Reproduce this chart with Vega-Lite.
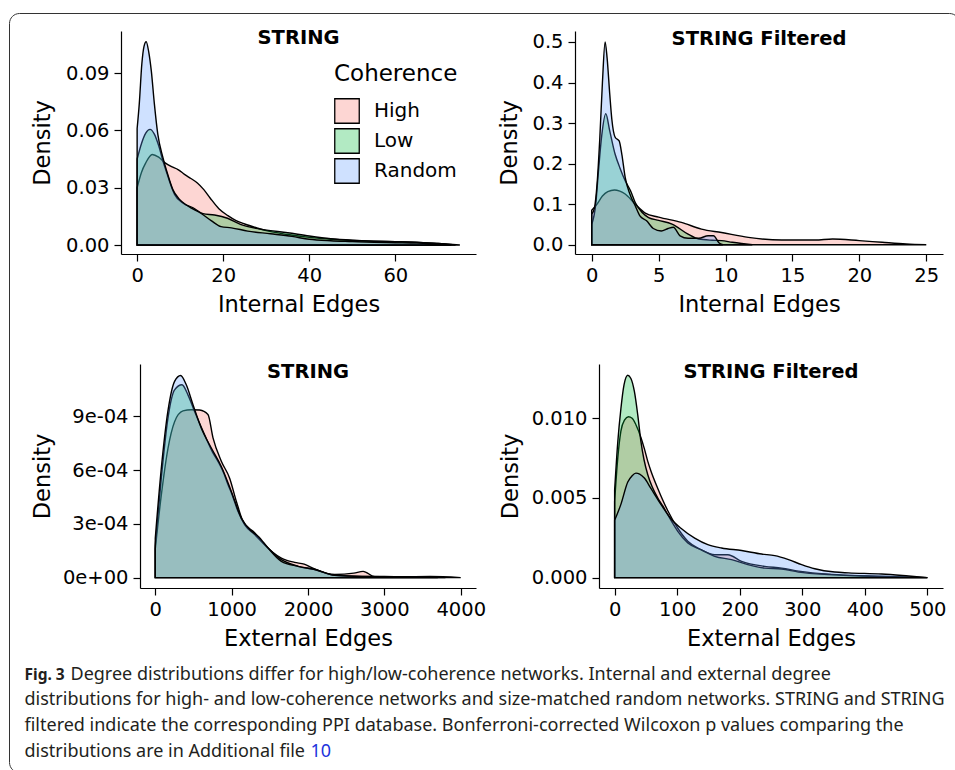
{
  "$schema": "https://vega.github.io/schema/vega-lite/v6.json",
  "background": "white",
  "padding": {"left": 8, "top": 12, "right": 0, "bottom": 0},
  "autosize": {"type": "pad"},
  "datasets": {
    "tl": [
      {"g":"High","v":0,"d":0.030},{"g":"High","v":1,"d":0.038},{"g":"High","v":2,"d":0.043},{"g":"High","v":3.5,"d":0.0474},{"g":"High","v":5,"d":0.046},{"g":"High","v":6.5,"d":0.043},{"g":"High","v":8,"d":0.041},{"g":"High","v":9.5,"d":0.0395},{"g":"High","v":11,"d":0.037},{"g":"High","v":12.5,"d":0.0348},{"g":"High","v":14,"d":0.0325},{"g":"High","v":15.5,"d":0.029},{"g":"High","v":17,"d":0.0245},{"g":"High","v":19,"d":0.019},{"g":"High","v":21,"d":0.0155},{"g":"High","v":23,"d":0.0128},{"g":"High","v":25,"d":0.011},{"g":"High","v":28,"d":0.0088},{"g":"High","v":30,"d":0.0075},{"g":"High","v":35,"d":0.0055},{"g":"High","v":40,"d":0.004},{"g":"High","v":45,"d":0.003},{"g":"High","v":50,"d":0.0024},{"g":"High","v":55,"d":0.002},{"g":"High","v":60,"d":0.0018},{"g":"High","v":65,"d":0.0015},{"g":"High","v":70,"d":0.0008},{"g":"High","v":75,"d":0},
      {"g":"Low","v":0,"d":0.045},{"g":"Low","v":1,"d":0.053},{"g":"Low","v":2,"d":0.0585},{"g":"Low","v":3,"d":0.0605},{"g":"Low","v":4,"d":0.058},{"g":"Low","v":5,"d":0.052},{"g":"Low","v":6,"d":0.044},{"g":"Low","v":7,"d":0.037},{"g":"Low","v":7.5,"d":0.0335},{"g":"Low","v":8.7,"d":0.0265},{"g":"Low","v":10.6,"d":0.022},{"g":"Low","v":13,"d":0.0195},{"g":"Low","v":15.3,"d":0.0164},{"g":"Low","v":18,"d":0.0157},{"g":"Low","v":21,"d":0.014},{"g":"Low","v":24,"d":0.0108},{"g":"Low","v":29,"d":0.0082},{"g":"Low","v":35,"d":0.0064},{"g":"Low","v":40,"d":0.0047},{"g":"Low","v":45,"d":0.0033},{"g":"Low","v":50,"d":0.0025},{"g":"Low","v":55,"d":0.002},{"g":"Low","v":60,"d":0.0017},{"g":"Low","v":65,"d":0.0014},{"g":"Low","v":70,"d":0.0008},{"g":"Low","v":74,"d":0},
      {"g":"Random","v":0,"d":0.061},{"g":"Random","v":0.5,"d":0.074},{"g":"Random","v":1.1,"d":0.095},{"g":"Random","v":1.6,"d":0.104},{"g":"Random","v":2.1,"d":0.1064},{"g":"Random","v":2.7,"d":0.101},{"g":"Random","v":3.3,"d":0.091},{"g":"Random","v":4,"d":0.074},{"g":"Random","v":4.8,"d":0.058},{"g":"Random","v":6,"d":0.0457},{"g":"Random","v":7.1,"d":0.037},{"g":"Random","v":8.3,"d":0.029},{"g":"Random","v":9.8,"d":0.024},{"g":"Random","v":11.8,"d":0.0204},{"g":"Random","v":14.9,"d":0.0165},{"g":"Random","v":17.2,"d":0.0128},{"g":"Random","v":19.5,"d":0.0096},{"g":"Random","v":21.9,"d":0.009},{"g":"Random","v":25.7,"d":0.0073},{"g":"Random","v":31,"d":0.0059},{"g":"Random","v":36,"d":0.0045},{"g":"Random","v":40,"d":0.003},{"g":"Random","v":45,"d":0.0022},{"g":"Random","v":50,"d":0.0018},{"g":"Random","v":55,"d":0.0014},{"g":"Random","v":60,"d":0.0012},{"g":"Random","v":65,"d":0.001},{"g":"Random","v":70,"d":0.0005},{"g":"Random","v":73,"d":0}
    ],
    "tr": [
      {"g":"High","v":0,"d":0.085},{"g":"High","v":0.4,"d":0.1},{"g":"High","v":0.8,"d":0.12},{"g":"High","v":1.2,"d":0.131},{"g":"High","v":1.7,"d":0.135},{"g":"High","v":2.1,"d":0.132},{"g":"High","v":2.5,"d":0.125},{"g":"High","v":3.25,"d":0.1},{"g":"High","v":4,"d":0.078},{"g":"High","v":5,"d":0.068},{"g":"High","v":6.7,"d":0.055},{"g":"High","v":8.2,"d":0.0385},{"g":"High","v":9.7,"d":0.03},{"g":"High","v":11.7,"d":0.018},{"g":"High","v":14.2,"d":0.0115},{"g":"High","v":16.7,"d":0.0115},{"g":"High","v":18,"d":0.014},{"g":"High","v":20,"d":0.01},{"g":"High","v":21.7,"d":0.006},{"g":"High","v":23.5,"d":0.002},{"g":"High","v":25,"d":0},
      {"g":"Low","v":0,"d":0.05},{"g":"Low","v":0.3,"d":0.1},{"g":"Low","v":0.5,"d":0.18},{"g":"Low","v":0.75,"d":0.27},{"g":"Low","v":1.05,"d":0.323},{"g":"Low","v":1.35,"d":0.28},{"g":"Low","v":1.75,"d":0.223},{"g":"Low","v":2.1,"d":0.19},{"g":"Low","v":2.5,"d":0.158},{"g":"Low","v":2.9,"d":0.133},{"g":"Low","v":3.25,"d":0.104},{"g":"Low","v":3.75,"d":0.08},{"g":"Low","v":4.25,"d":0.067},{"g":"Low","v":5,"d":0.06},{"g":"Low","v":6,"d":0.051},{"g":"Low","v":7.2,"d":0.026},{"g":"Low","v":8,"d":0.014},{"g":"Low","v":9,"d":0.011},{"g":"Low","v":9.7,"d":0.01},{"g":"Low","v":10.5,"d":0.006},{"g":"Low","v":11.2,"d":0.003},{"g":"Low","v":12,"d":0},
      {"g":"Random","v":0,"d":0.075},{"g":"Random","v":0.2,"d":0.09},{"g":"Random","v":0.4,"d":0.15},{"g":"Random","v":0.6,"d":0.26},{"g":"Random","v":0.8,"d":0.4},{"g":"Random","v":1,"d":0.5},{"g":"Random","v":1.15,"d":0.46},{"g":"Random","v":1.35,"d":0.37},{"g":"Random","v":1.5,"d":0.31},{"g":"Random","v":1.75,"d":0.265},{"g":"Random","v":2.05,"d":0.256},{"g":"Random","v":2.25,"d":0.223},{"g":"Random","v":2.5,"d":0.166},{"g":"Random","v":2.85,"d":0.125},{"g":"Random","v":3.25,"d":0.096},{"g":"Random","v":3.6,"d":0.071},{"g":"Random","v":4.1,"d":0.059},{"g":"Random","v":4.6,"d":0.04},{"g":"Random","v":5.2,"d":0.034},{"g":"Random","v":5.7,"d":0.04},{"g":"Random","v":6.1,"d":0.043},{"g":"Random","v":6.6,"d":0.022},{"g":"Random","v":7.2,"d":0.016},{"g":"Random","v":8,"d":0.016},{"g":"Random","v":8.7,"d":0.022},{"g":"Random","v":9.1,"d":0.022},{"g":"Random","v":9.5,"d":0.005},{"g":"Random","v":9.8,"d":0}
    ],
    "bl": [
      {"g":"High","v":0,"d":0.00016},{"g":"High","v":79,"d":0.00046},{"g":"High","v":166,"d":0.00072},{"g":"High","v":253,"d":0.00087},{"g":"High","v":363,"d":0.00093},{"g":"High","v":472,"d":0.000937},{"g":"High","v":581,"d":0.000935},{"g":"High","v":690,"d":0.00091},{"g":"High","v":756,"d":0.00078},{"g":"High","v":865,"d":0.000649},{"g":"High","v":974,"d":0.000555},{"g":"High","v":1062,"d":0.000425},{"g":"High","v":1149,"d":0.000314},{"g":"High","v":1301,"d":0.00025},{"g":"High","v":1432,"d":0.000184},{"g":"High","v":1651,"d":0.000109},{"g":"High","v":1825,"d":0.000085},{"g":"High","v":1950,"d":0.000075},{"g":"High","v":2088,"d":0.000048},{"g":"High","v":2350,"d":0.000017},{"g":"High","v":2600,"d":0.000025},{"g":"High","v":2722,"d":0.000035},{"g":"High","v":2875,"d":0.000005},{"g":"High","v":3200,"d":0.000005},{"g":"High","v":3600,"d":0.000006},{"g":"High","v":4000,"d":0},
      {"g":"Low","v":0,"d":0.00018},{"g":"Low","v":79,"d":0.000555},{"g":"Low","v":166,"d":0.00089},{"g":"Low","v":253,"d":0.001048},{"g":"Low","v":350,"d":0.001076},{"g":"Low","v":428,"d":0.00102},{"g":"Low","v":515,"d":0.000927},{"g":"Low","v":646,"d":0.000797},{"g":"Low","v":750,"d":0.0007},{"g":"Low","v":821,"d":0.000649},{"g":"Low","v":900,"d":0.00058},{"g":"Low","v":952,"d":0.000519},{"g":"Low","v":1000,"d":0.00047},{"g":"Low","v":1083,"d":0.00037},{"g":"Low","v":1170,"d":0.000296},{"g":"Low","v":1301,"d":0.00024},{"g":"Low","v":1432,"d":0.000184},{"g":"Low","v":1651,"d":0.0001},{"g":"Low","v":1870,"d":0.000063},{"g":"Low","v":2088,"d":0.000045},{"g":"Low","v":2350,"d":0.000013},{"g":"Low","v":2600,"d":0.000008},{"g":"Low","v":3000,"d":0.000006},{"g":"Low","v":3400,"d":0.000004},{"g":"Low","v":3700,"d":0},
      {"g":"Random","v":0,"d":0.00022},{"g":"Random","v":79,"d":0.00061},{"g":"Random","v":166,"d":0.00093},{"g":"Random","v":253,"d":0.001095},{"g":"Random","v":332,"d":0.001128},{"g":"Random","v":406,"d":0.001076},{"g":"Random","v":494,"d":0.000965},{"g":"Random","v":603,"d":0.000834},{"g":"Random","v":734,"d":0.000723},{"g":"Random","v":865,"d":0.00062},{"g":"Random","v":996,"d":0.000481},{"g":"Random","v":1127,"d":0.000332},{"g":"Random","v":1258,"d":0.00026},{"g":"Random","v":1350,"d":0.00023},{"g":"Random","v":1477,"d":0.000165},{"g":"Random","v":1651,"d":0.000091},{"g":"Random","v":1870,"d":0.000063},{"g":"Random","v":2088,"d":0.000045},{"g":"Random","v":2350,"d":0.000013},{"g":"Random","v":2700,"d":0.000006},{"g":"Random","v":3200,"d":0.000005},{"g":"Random","v":3600,"d":0.000003},{"g":"Random","v":3800,"d":0}
    ],
    "br": [
      {"g":"High","v":0,"d":0.0048},{"g":"High","v":5,"d":0.0075},{"g":"High","v":10,"d":0.0092},{"g":"High","v":16,"d":0.0099},{"g":"High","v":22,"d":0.0101},{"g":"High","v":28,"d":0.01},{"g":"High","v":34,"d":0.0096},{"g":"High","v":42,"d":0.0088},{"g":"High","v":47.5,"d":0.0081},{"g":"High","v":53,"d":0.0073},{"g":"High","v":58,"d":0.0067},{"g":"High","v":69,"d":0.0056},{"g":"High","v":85,"d":0.0042},{"g":"High","v":101,"d":0.0031},{"g":"High","v":117,"d":0.00228},{"g":"High","v":138,"d":0.00176},{"g":"High","v":160,"d":0.00144},{"g":"High","v":181,"d":0.00144},{"g":"High","v":203,"d":0.00102},{"g":"High","v":240,"d":0.00071},{"g":"High","v":267,"d":0.0006},{"g":"High","v":294,"d":0.00041},{"g":"High","v":347,"d":0.0002},{"g":"High","v":401,"d":0.0001},{"g":"High","v":500,"d":0},
      {"g":"Low","v":0,"d":0.0055},{"g":"Low","v":5,"d":0.0085},{"g":"Low","v":10,"d":0.0106},{"g":"Low","v":15,"d":0.0121},{"g":"Low","v":21,"d":0.0127},{"g":"Low","v":26,"d":0.0125},{"g":"Low","v":31.5,"d":0.0117},{"g":"Low","v":37,"d":0.0102},{"g":"Low","v":42,"d":0.00855},{"g":"Low","v":47,"d":0.0074},{"g":"Low","v":53,"d":0.00646},{"g":"Low","v":60,"d":0.0057},{"g":"Low","v":69,"d":0.005},{"g":"Low","v":77,"d":0.0045},{"g":"Low","v":85,"d":0.00395},{"g":"Low","v":93,"d":0.0034},{"g":"Low","v":101,"d":0.0029},{"g":"Low","v":117,"d":0.00217},{"g":"Low","v":138,"d":0.00176},{"g":"Low","v":160,"d":0.00134},{"g":"Low","v":187,"d":0.00113},{"g":"Low","v":213,"d":0.00082},{"g":"Low","v":240,"d":0.0006},{"g":"Low","v":267,"d":0.00054},{"g":"Low","v":294,"d":0.00035},{"g":"Low","v":347,"d":0.00019},{"g":"Low","v":401,"d":0.0001},{"g":"Low","v":455,"d":0.00005},{"g":"Low","v":500,"d":0},
      {"g":"Random","v":0,"d":0.0036},{"g":"Random","v":10,"d":0.0046},{"g":"Random","v":21,"d":0.006},{"g":"Random","v":28,"d":0.0064},{"g":"Random","v":34,"d":0.00656},{"g":"Random","v":40,"d":0.0065},{"g":"Random","v":47.5,"d":0.00625},{"g":"Random","v":58,"d":0.0056},{"g":"Random","v":74,"d":0.0046},{"g":"Random","v":90,"d":0.0037},{"g":"Random","v":106,"d":0.0031},{"g":"Random","v":128,"d":0.00248},{"g":"Random","v":149,"d":0.00207},{"g":"Random","v":171,"d":0.00186},{"g":"Random","v":203,"d":0.0017},{"g":"Random","v":235,"d":0.00148},{"g":"Random","v":256,"d":0.00138},{"g":"Random","v":278,"d":0.00113},{"g":"Random","v":299,"d":0.00082},{"g":"Random","v":320,"d":0.00056},{"g":"Random","v":352,"d":0.00035},{"g":"Random","v":374,"d":0.0003},{"g":"Random","v":427,"d":0.00023},{"g":"Random","v":470,"d":0.0001},{"g":"Random","v":500,"d":0}
    ],
    "caption": [
      {"line":1,"part":"bold","t":"Fig. 3"},
      {"line":1,"part":"main","t":"Degree distributions differ for high/low-coherence networks. Internal and external degree"},
      {"line":2,"part":"line","t":"distributions for high- and low-coherence networks and size-matched random networks. STRING and STRING"},
      {"line":3,"part":"line","t":"filtered indicate the corresponding PPI database. Bonferroni-corrected Wilcoxon p values comparing the"},
      {"line":4,"part":"line","t":"distributions are in Additional file"},
      {"line":4,"part":"link","t":"10"}
    ]
  },
  "vconcat": [
    {
      "concat": [
        {"width": 112, "height": 18, "data": {"values": []}, "mark": "point"},
        {"width": 1, "height": 1, "data": {"values": []}, "mark": "point"},
        {"width": 1, "height": 1, "data": {"values": []}, "mark": "point"},
        {"width": 1, "height": 1, "data": {"values": []}, "mark": "point"},
        {"width": 1, "height": 1, "data": {"values": []}, "mark": "point"},
        {
          "width": 355, "height": 223,
          "layer": [
            {
              "data": {"name": "tl"},
              "mark": {"type": "area", "interpolate": "monotone", "stroke": "black", "strokeWidth": 1.4, "fillOpacity": 0.3},
              "encoding": {
                "x": {"field": "v", "type": "quantitative", "scale": {"domain": [-3.75, 78.75], "nice": false, "zero": false}, "axis": {"title": "Internal Edges", "values": [0, 20, 40, 60], "format": "d"}},
                "y": {"field": "d", "type": "quantitative", "stack": null, "scale": {"domain": [-0.0047, 0.112], "nice": false, "zero": false}, "axis": {"title": "Density", "values": [0, 0.03, 0.06, 0.09], "format": ".2f", "titlePadding": 11}},
                "y2": {"datum": 0},
                "color": {"field": "g", "type": "nominal", "scale": {"domain": ["High", "Low", "Random"], "range": ["#F8766D", "#00BA38", "#619CFF"]},
                  "legend": {"title": "Coherence", "orient": "none", "legendX": 213, "legendY": 32, "direction": "vertical", "symbolType": "square", "symbolSize": 600, "symbolStrokeColor": "black", "symbolStrokeWidth": 1.3, "rowPadding": 0, "labelOffset": 14, "labelFont": "DejaVu Sans", "labelFontSize": 20, "labelColor": "black", "titleFont": "DejaVu Sans", "titleFontSize": 23, "titleFontWeight": "normal", "titleColor": "black", "titlePadding": 12, "padding": 0,
                    "encode": {"symbols": {"update": {"fillOpacity": {"value": 0.3}, "stroke": {"value": "black"}, "strokeWidth": {"value": 1.3}, "opacity": {"value": 1}}}}}}
              }
            },
            {
              "data": {"values": [{"title": "STRING"}]},
              "mark": {"type": "text", "font": "DejaVu Sans", "fontSize": 19.5, "fontWeight": "bold", "color": "black", "align": "center", "baseline": "alphabetic"},
              "encoding": {"x": {"datum": 37.5, "type": "quantitative"}, "y": {"datum": 0.10494, "type": "quantitative"}, "text": {"field": "title"}}
            }
          ]
        },
        {"width": 99, "height": 1, "data": {"values": []}, "mark": "point"},
        {
          "width": 368, "height": 223,
          "layer": [
            {
              "data": {"name": "tr"},
              "mark": {"type": "area", "interpolate": "monotone", "stroke": "black", "strokeWidth": 1.4, "fillOpacity": 0.3},
              "encoding": {
                "x": {"field": "v", "type": "quantitative", "scale": {"domain": [-1.25, 26.25], "nice": false, "zero": false}, "axis": {"title": "Internal Edges", "values": [0, 5, 10, 15, 20, 25], "format": "d"}},
                "y": {"field": "d", "type": "quantitative", "stack": null, "scale": {"domain": [-0.0229, 0.527], "nice": false, "zero": false}, "axis": {"title": "Density", "values": [0, 0.1, 0.2, 0.3, 0.4, 0.5], "format": ".1f", "titlePadding": 10.5}},
                "y2": {"datum": 0},
                "color": {"field": "g", "type": "nominal", "scale": {"domain": ["High", "Low", "Random"], "range": ["#F8766D", "#00BA38", "#619CFF"]}, "legend": null}
              }
            },
            {
              "data": {"values": [{"title": "STRING Filtered"}]},
              "mark": {"type": "text", "font": "DejaVu Sans", "fontSize": 19.5, "fontWeight": "bold", "color": "black", "align": "center", "baseline": "alphabetic"},
              "encoding": {"x": {"datum": 12.5, "type": "quantitative"}, "y": {"datum": 0.49371, "type": "quantitative"}, "text": {"field": "title"}}
            }
          ]
        }
      ],
      "columns": 4,
      "spacing": 0,
      "bounds": "flush",
      "resolve": {"scale": {"color": "independent"}, "legend": {"color": "independent"}}
    },
    {
      "concat": [
        {"width": 131, "height": 351, "data": {"values": []}, "mark": "point"},
        {"width": 1, "height": 1, "data": {"values": []}, "mark": "point"},
        {"width": 1, "height": 1, "data": {"values": []}, "mark": "point"},
        {"width": 1, "height": 1, "data": {"values": []}, "mark": "point"},
        {"width": 1, "height": 1, "data": {"values": []}, "mark": "point"},
        {
          "width": 336, "height": 224,
          "layer": [
            {
              "data": {"name": "bl"},
              "mark": {"type": "area", "interpolate": "monotone", "stroke": "black", "strokeWidth": 1.4, "fillOpacity": 0.3},
              "encoding": {
                "x": {"field": "v", "type": "quantitative", "scale": {"domain": [-200, 4200], "nice": false, "zero": false}, "axis": {"title": "External Edges", "values": [0, 1000, 2000, 3000, 4000], "format": "d"}},
                "y": {"field": "d", "type": "quantitative", "stack": null, "scale": {"domain": [-0.000058, 0.001192], "nice": false, "zero": false}, "axis": {"title": "Density", "values": [0, 0.0003, 0.0006, 0.0009], "labelExpr": "replace(replace(format(datum.value, '.0e'), 'e-', 'e-0'), 'e+', 'e+0')", "titlePadding": 8}},
                "y2": {"datum": 0},
                "color": {"field": "g", "type": "nominal", "scale": {"domain": ["High", "Low", "Random"], "range": ["#F8766D", "#00BA38", "#619CFF"]}, "legend": null}
              }
            },
            {
              "data": {"values": [{"title": "STRING"}]},
              "mark": {"type": "text", "font": "DejaVu Sans", "fontSize": 19.5, "fontWeight": "bold", "color": "black", "align": "center", "baseline": "alphabetic"},
              "encoding": {"x": {"datum": 2000, "type": "quantitative"}, "y": {"datum": 0.001115, "type": "quantitative"}, "text": {"field": "title"}}
            }
          ]
        },
        {"width": 123, "height": 1, "data": {"values": []}, "mark": "point"},
        {
          "width": 344, "height": 224,
          "layer": [
            {
              "data": {"name": "br"},
              "mark": {"type": "area", "interpolate": "monotone", "stroke": "black", "strokeWidth": 1.4, "fillOpacity": 0.3},
              "encoding": {
                "x": {"field": "v", "type": "quantitative", "scale": {"domain": [-25, 525], "nice": false, "zero": false}, "axis": {"title": "External Edges", "values": [0, 100, 200, 300, 400, 500], "format": "d"}},
                "y": {"field": "d", "type": "quantitative", "stack": null, "scale": {"domain": [-0.00065, 0.01341], "nice": false, "zero": false}, "axis": {"title": "Density", "values": [0, 0.005, 0.01], "format": ".3f", "titlePadding": 9}},
                "y2": {"datum": 0},
                "color": {"field": "g", "type": "nominal", "scale": {"domain": ["High", "Low", "Random"], "range": ["#F8766D", "#00BA38", "#619CFF"]}, "legend": null}
              }
            },
            {
              "data": {"values": [{"title": "STRING Filtered"}]},
              "mark": {"type": "text", "font": "DejaVu Sans", "fontSize": 19.5, "fontWeight": "bold", "color": "black", "align": "center", "baseline": "alphabetic"},
              "encoding": {"x": {"datum": 250, "type": "quantitative"}, "y": {"datum": 0.012544, "type": "quantitative"}, "text": {"field": "title"}}
            }
          ]
        }
      ],
      "columns": 4,
      "spacing": 0,
      "bounds": "flush",
      "resolve": {"scale": {"color": "independent"}, "legend": {"color": "independent"}}
    },
    {
      "width": 950, "height": 759,
      "view": {"stroke": "#333333", "strokeWidth": 1, "cornerRadius": 10, "fill": null},
      "data": {"name": "caption"},
      "encoding": {
        "x": {"datum": 0, "type": "quantitative", "scale": {"domain": [-0.016586, 1], "nice": false, "zero": false}, "axis": null},
        "y": {"field": "line", "type": "quantitative", "scale": {"domain": [4.5853, -24.8337], "nice": false, "zero": false}, "axis": null},
        "text": {"field": "t"}
      },
      "layer": [
        {"transform": [{"filter": "datum.part == 'bold'"}], "mark": {"type": "text", "align": "left", "baseline": "alphabetic", "font": "Noto Sans", "fontSize": 15.5, "fontWeight": "bold", "color": "#231f20"}},
        {"transform": [{"filter": "datum.part == 'main'"}], "mark": {"type": "text", "align": "left", "baseline": "alphabetic", "font": "Noto Sans", "fontSize": 18, "color": "#231f20", "dx": 46}},
        {"transform": [{"filter": "datum.part == 'line'"}], "mark": {"type": "text", "align": "left", "baseline": "alphabetic", "font": "Noto Sans", "fontSize": 18, "color": "#231f20"}},
        {"transform": [{"filter": "datum.part == 'link'"}], "mark": {"type": "text", "align": "left", "baseline": "alphabetic", "font": "Noto Sans", "fontSize": 18, "color": "#2233dd", "dx": 286}}
      ]
    }
  ],
  "spacing": 0,
  "bounds": "flush",
  "resolve": {"scale": {"color": "independent"}, "legend": {"color": "independent"}},
  "config": {
    "view": {"stroke": null},
    "font": "DejaVu Sans",
    "axis": {"domainColor": "black", "domainWidth": 1.2, "tickColor": "black", "tickWidth": 1.2, "tickSize": 7, "labelFont": "DejaVu Sans", "labelFontSize": 19.5, "labelColor": "black", "labelPadding": 5, "labelFlush": false, "labelOverlap": false, "titleFont": "DejaVu Sans", "titleFontSize": 22.5, "titleFontWeight": "normal", "titleColor": "black", "grid": false},
    "axisX": {"titlePadding": 9}
  }
}
